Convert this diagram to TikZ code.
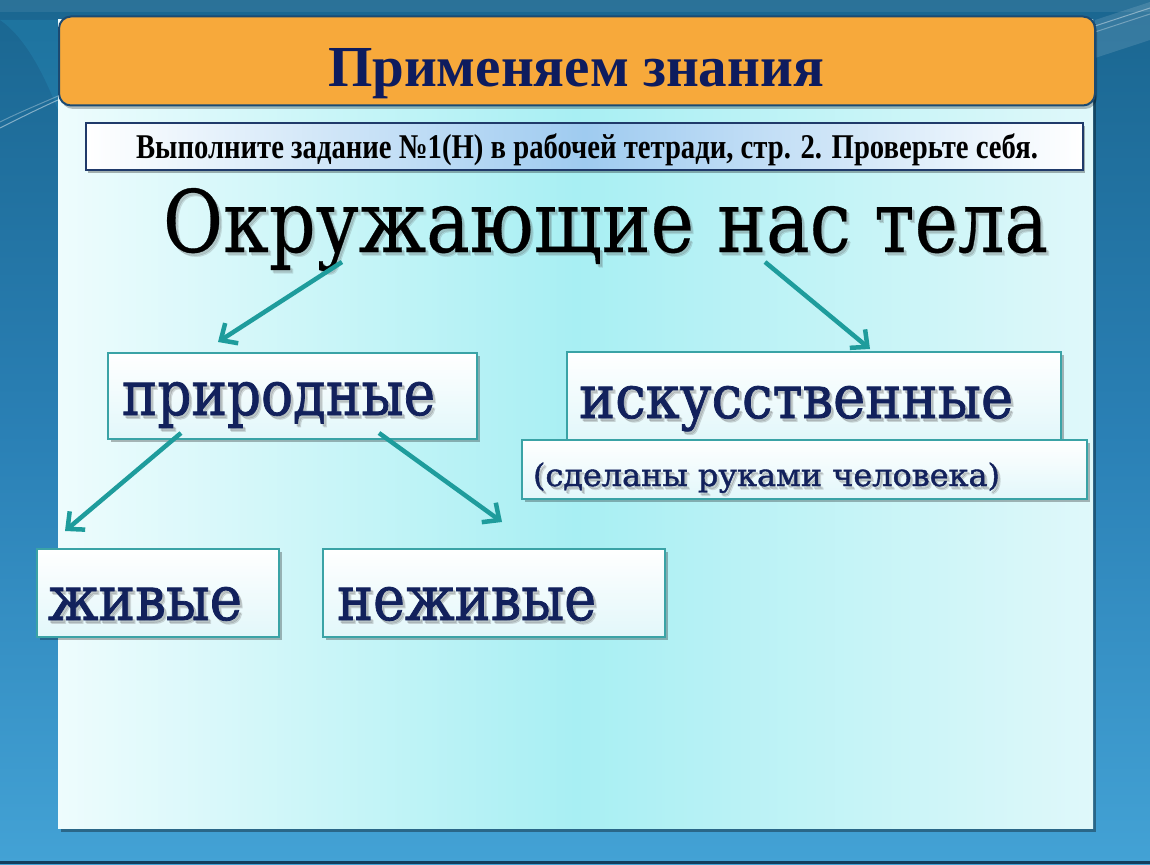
\documentclass[tikz,border=0pt]{standalone}
\usepackage{fontspec}
\setmainfont{Liberation Serif}
\newfontfamily\cambf[FakeBold=1.3]{DejaVu Serif}
\newfontfamily\headf[FakeBold=0.4]{DejaVu Serif}
\usetikzlibrary{arrows.meta}
\definecolor{navy}{HTML}{12215C}
\definecolor{hdrnavy}{HTML}{0E1C5E}
\definecolor{bgtop}{HTML}{1A6690}
\definecolor{bgmid}{HTML}{2A80B5}
\definecolor{bgbot}{HTML}{43A2D5}
\definecolor{panL}{HTML}{EEFCFD}
\definecolor{panM}{HTML}{A8EFF3}
\definecolor{panR}{HTML}{DFF8FA}
\definecolor{hdrfill}{HTML}{F7A93B}
\definecolor{hdrline}{HTML}{1B4A72}
\definecolor{subline}{HTML}{1F3A6A}
\definecolor{submid}{HTML}{9FCBF0}
\definecolor{boxline}{HTML}{3AA3A6}
\definecolor{boxbot}{HTML}{E2F7FA}
\definecolor{arrowc}{HTML}{1E9C9C}
\definecolor{darkedge}{HTML}{123E5E}
\newcommand\shtxt[7]{%
  \node[txt, text=black!70, opacity=.18] (#2-sa) at ({#3+2},{#4+2.5}) {\resizebox{#5}{#6}{#7}};
  \node[txt, text=black!70, opacity=.14] (#2-sb) at ({#3+3},{#4+3.5}) {\resizebox{#5}{#6}{#7}};
  \node[txt, #1] (#2) at (#3,#4) {\resizebox{#5}{#6}{#7}};}
\begin{document}
\begin{tikzpicture}[x=1pt,y=-1pt,
  txt/.style={anchor=base west, inner sep=0pt, outer sep=0pt},
  wbox/.style={draw=boxline, line width=1.2pt, top color=white, bottom color=boxbot,
     inner sep=0pt, outer sep=0pt,
     preaction={fill=black, opacity=.28, transform canvas={shift={(2.5pt,-3pt)}}}},
  arr/.style={draw=arrowc, line width=4.5pt, -{Straight Barb[length=13pt,width=24pt]}}
]
\useasboundingbox (0,0) rectangle (1150,864);
% background
\shade[top color=bgtop, bottom color=bgbot, middle color=bgmid] (0,0) rectangle (1150,864);
\fill[white, opacity=.08] (0,0) rectangle (1150,12);
\fill[cyan!60!teal, opacity=.25] (0,20) .. controls (30,40) and (50,90) .. (58,110) -- (58,20) -- cycle;
\draw[white, opacity=.45, line width=1pt] (0,128) .. controls (20,118) and (40,108) .. (58,100);
\draw[white, opacity=.3, line width=1pt] (0,122) .. controls (20,112) and (40,104) .. (58,96);
\fill[white, opacity=.12] (1095,20) -- (1150,2) -- (1150,40) -- (1095,58) -- cycle;
\draw[white, opacity=.4, line width=1pt] (1095,26) -- (1150,8);
\draw[white, opacity=.3, line width=1pt] (1095,32) -- (1150,14);
\fill[darkedge] (0,861) rectangle (1150,864);
% panel
\fill[black, opacity=.35] (61,24) rectangle (1096,832);
\shade[left color=panL, right color=panR, middle color=panM] (58,20) rectangle (1093,828);
% header
\fill[black, opacity=.25, rounded corners=12pt] (61,20) rectangle (1097,109);
\node[draw=hdrline, line width=2pt, fill=hdrfill, rounded corners=12pt,
  minimum width=1036pt, minimum height=89pt, inner sep=0pt] (hdr) at (577,61) {};
\node[txt, text=hdrnavy] (hdrtext) at (328,87)
  {\resizebox{496pt}{38pt}{\bfseries Применяем знания}};
% subtitle
\node[draw=subline, line width=1.2pt, left color=white, right color=white, middle color=submid,
  minimum width=997pt, minimum height=47pt, inner sep=0pt,
  preaction={fill=black, opacity=.3, transform canvas={shift={(2pt,-3pt)}}}] (sub) at (584.5,146.5) {};
\node[txt, text=black] (subtext) at (136,158)
  {\resizebox{902pt}{\height}{\fontsize{34.7}{40}\selectfont\bfseries Выполните задание №1(Н) в рабочей тетради, стр. 2. Проверьте себя.}};
% heading
\shtxt{text=black}{title}{163}{252}{885pt}{64pt}{\headf Окружающие нас тела}
% boxes
\node[wbox, minimum width=369pt, minimum height=86pt] (prir) at (292.5,396) {};
\node[wbox, minimum width=494pt, minimum height=88pt] (isk) at (814,396) {};
\node[wbox, minimum width=565pt, minimum height=59pt] (hand) at (804.5,469.5) {};
\node[wbox, minimum width=242pt, minimum height=88pt] (ziv) at (158,593) {};
\node[wbox, minimum width=342pt, minimum height=88pt] (nez) at (494,593) {};
% box texts
\shtxt{text=navy}{prirt}{122}{415}{313pt}{33pt}{\cambf природные}
\shtxt{text=navy}{iskt}{579}{418}{434pt}{32pt}{\cambf искусственные}
\shtxt{text=navy}{handt}{533}{486}{467pt}{\height}{\fontsize{31}{36}\selectfont\cambf (сделаны руками человека)}
\shtxt{text=navy}{zivt}{48}{620}{194pt}{33pt}{\cambf живые}
\shtxt{text=navy}{nezt}{337}{620}{259pt}{33pt}{\cambf неживые}
% arrows
\coordinate (a1s) at (342,262);
\coordinate (a1e) at (218,342);
\coordinate (a2s) at (765,262);
\coordinate (a2e) at (870,349);
\coordinate (a3s) at (181,433);
\coordinate (a3e) at (65,531);
\coordinate (a4s) at (379,433);
\coordinate (a4e) at (502,522);
\draw[arr] (a1s) -- (a1e);
\draw[arr] (a2s) -- (a2e);
\draw[arr] (a3s) -- (a3e);
\draw[arr] (a4s) -- (a4e);
\end{tikzpicture}
\end{document}
